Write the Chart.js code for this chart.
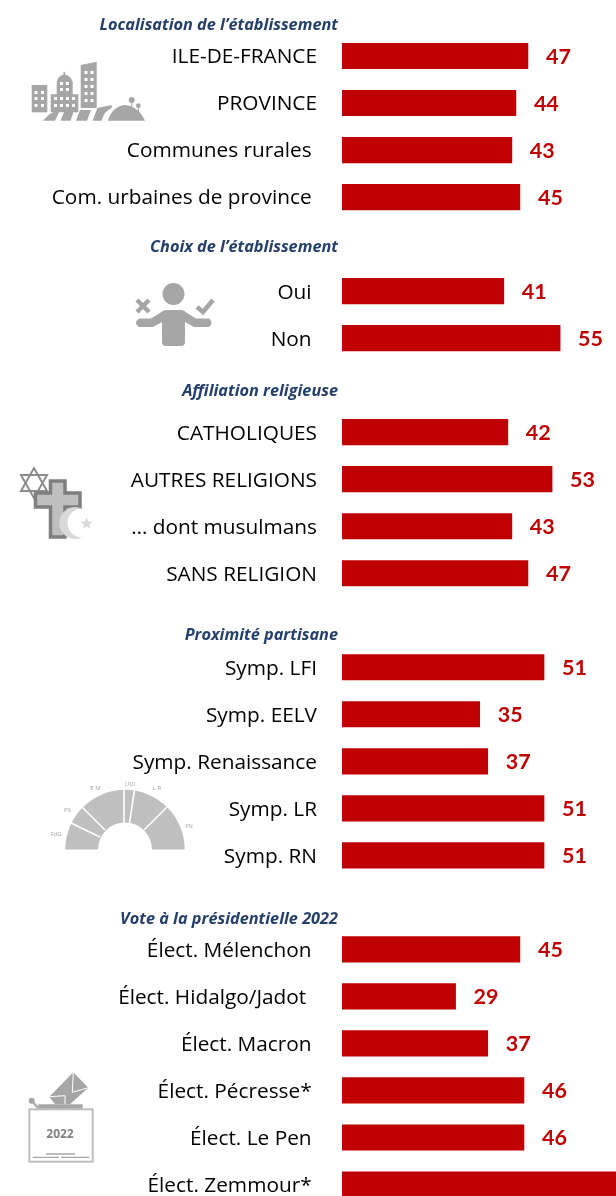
<!DOCTYPE html>
<html lang="fr">
<head>
<meta charset="utf-8">
<title>Localisation, choix, religion, vote</title>
<script src="https://cdn.jsdelivr.net/npm/chart.js@4/dist/chart.umd.min.js"></script>
<style>
    html, body { margin: 0; padding: 0; background: #fff; }
    #wrap { position: relative; width: 616px; height: 1196px; overflow: hidden; }
    #chart { position: absolute; left: 0; top: 0; }
    #icons { position: absolute; left: 0; top: 0; }
    #icons text { font-family: "Open Sans", sans-serif; text-anchor: middle; }
</style>
</head>
<body>
<div id="wrap">
    <canvas id="chart" width="616" height="1208"></canvas>
    <svg id="icons" width="616" height="1196" viewBox="0 0 616 1196">
        <!-- city -->
        <g fill="#a6a6a6">
            <rect x="31.700" y="85" width="15.600" height="27.300"/>
            <path d="M50.700 112.300V94.300H56.700V82Q58 76 63.500 74.500V71.700H65V74.500Q71 76 72.700 82V94.300H78.300V112.300Z"/>
            <path d="M80.700 65L96.700 61.700V108H80.700Z"/>
            <path d="M43 120.700L49 114.500Q54 111 60 110L55 120.700H60.500L65.500 108.700Q70 107.800 75 107.500L70.500 120.700H76L80 110H91L87 120.700H92.500L97.500 108L111.700 105V108Q104 111 101.700 120.700Z"/>
            <path d="M107.700 120.700Q113 106 125 105Q138 106 145 120.700Z"/>
            <circle cx="131.700" cy="100" r="3"/>
            <circle cx="138.300" cy="105.700" r="2.400"/>
        </g>
        <path d="M131.700 100V108M138.300 106V113" stroke="#a6a6a6" stroke-width="1" fill="none"/>
        <g fill="#fff">
            <rect x="34.500" y="91" width="3" height="3"/><rect x="41" y="91" width="3" height="3"/>
            <rect x="34.500" y="97" width="3" height="3"/><rect x="41" y="97" width="3" height="3"/>
            <rect x="34.500" y="104" width="3" height="3"/><rect x="41" y="104" width="3" height="3"/>
            <rect x="60" y="82" width="3" height="3"/><rect x="66" y="82" width="3" height="3"/>
            <rect x="60" y="88" width="3" height="3"/><rect x="66" y="88" width="3" height="3"/>
            <rect x="54" y="97" width="3" height="3"/><rect x="60" y="97" width="3" height="3"/><rect x="66" y="97" width="3" height="3"/><rect x="72" y="97" width="3" height="3"/>
            <rect x="54" y="104" width="3" height="3"/><rect x="60" y="104" width="3" height="3"/><rect x="66" y="104" width="3" height="3"/><rect x="72" y="104" width="3" height="3"/>
            <rect x="84.500" y="71" width="3" height="3"/><rect x="90.500" y="71" width="3" height="3"/>
            <rect x="84.500" y="78" width="3" height="3"/><rect x="90.500" y="78" width="3" height="3"/>
            <rect x="84.500" y="85" width="3" height="3"/><rect x="90.500" y="85" width="3" height="3"/>
            <rect x="84.500" y="92" width="3" height="3"/><rect x="90.500" y="92" width="3" height="3"/>
            <rect x="84.500" y="99" width="3" height="3"/><rect x="90.500" y="99" width="3" height="3"/>
        </g>
        <!-- person choosing -->
        <g fill="#a6a6a6" stroke="none">
            <circle cx="173.500" cy="294" r="11"/>
            <path d="M166 310H181Q184 310 187 313L196 318.500H209Q214 323 209 327H194L185 322V342Q185 346 181 346H166Q162 346 162 342V322L153 327H139Q133 323 139 318.500H151L160 313Q163 310 166 310Z"/>
        </g>
        <path d="M137 300L149 312M149 300L137 312" stroke="#a6a6a6" stroke-width="4.500" fill="none"/>
        <path d="M197 307L203 312L213 300" stroke="#a6a6a6" stroke-width="4.500" fill="none"/>
        <!-- religions -->
        <g fill="none" stroke="#8c8c8c" stroke-width="2">
            <path d="M34 468L47 491H21Z"/>
            <path d="M34 498L47 475H21Z"/>
        </g>
        <path d="M50.500 481H65V493H80V507H65V537H50.500V507H35.500V493H50.500Z" fill="#bfbfbf" stroke="#7f7f7f" stroke-width="3.500"/>
        <path d="M82 508.500A16 16 0 1 0 82 537.500A14.500 14.500 0 0 1 82 508.500Z" fill="#d9d9d9"/>
        <path d="M86.500 517L88.200 521.500H92.500L89 524.500L90.400 529L86.500 526.300L82.600 529L84 524.500L80.500 521.500H84.800Z" fill="#d9d9d9"/>
        <!-- assemblee -->
        <path d="M65.300 849.500A59.700 59.700 0 0 1 184.700 849.500H152A27 27 0 0 0 98 849.500Z" fill="#bfbfbf"/>
        <g stroke="#fff" stroke-width="1.600">
            <path d="M100 837L71 823"/><path d="M105 830L82 807"/>
            <path d="M124 823L124 789"/><path d="M129.500 823L134.500 790"/>
            <path d="M144 830L167 807"/>
        </g>
        <g font-size="6" fill="#a6a6a6">
            <text x="56" y="836">FdG</text><text x="67.500" y="812">PS</text>
            <text x="95.500" y="789.500">E M</text><text x="130" y="786">UDI</text>
            <text x="157" y="790">L R</text><text x="189" y="828">FN</text>
        </g>
        <!-- urne -->
        <path d="M73.300 1072.300L88.300 1087.700L70 1104.300H55L49.300 1096.700Z" fill="#a6a6a6"/>
        <path d="M49.300 1096.700L65 1095.700M73.300 1072.300L72.300 1092.300L88.300 1087.700M65 1095.700V1104.300" stroke="#fff" stroke-width="1" fill="none"/>
        <rect x="38.300" y="1104.300" width="44.400" height="4.700" fill="#a6a6a6"/>
        <rect x="29.300" y="1109.300" width="63.400" height="52.400" fill="#fff" stroke="#bfbfbf" stroke-width="2"/>
        <circle cx="31.700" cy="1100.700" r="3" fill="#a6a6a6"/>
        <path d="M32 1101L38 1108" stroke="#a6a6a6" stroke-width="2"/>
        <text x="60" y="1138" font-size="12" font-weight="700" fill="#808080">2022</text>
        <path d="M46 1154H75M32.700 1157.300H59M61 1157.300H89.300" stroke="#a6a6a6" stroke-width="1.300"/>
    </svg>
</div>
<script>
// Rows of the chart, empty strings are the gaps where the section titles sit.
// Trailing spaces are in the source labels and push the text left a little.
const categories = [
    'ILE-DE-FRANCE', 'PROVINCE', 'Communes rurales ', 'Com. urbaines de province ', '',
    'Oui ', 'Non ', '',
    'CATHOLIQUES', 'AUTRES RELIGIONS', '… dont musulmans', 'SANS RELIGION', '',
    'Symp. LFI', 'Symp. EELV', 'Symp. Renaissance', 'Symp. LR', 'Symp. RN', '',
    'Élect. Mélenchon ', 'Élect. Hidalgo/Jadot  ', 'Élect. Macron ', 'Élect. Pécresse* ', 'Élect. Le Pen ', 'Élect. Zemmour* '
];
// Zemmour runs off the picture, its value is only a guess
const values = [
    47, 44, 43, 45, null,
    41, 55, null,
    42, 53, 43, 47, null,
    51, 35, 37, 51, 51, null,
    45, 29, 37, 46, 46, 72
];
const sectionTitles = [
    'Localisation de l’établissement',
    'Choix de l’établissement',
    'Affiliation religieuse',
    'Proximité partisane',
    'Vote à la présidentielle 2022'
];
const sectionTitleY = [25, 247, 391, 635, 919];
// The bars in the source do not start quite at 0
const axisMin = 0.75;
const axisMax = 68.9;

// Section titles and the numbers after the bars
const annotations = {
    id: 'annotations',
    afterDatasetsDraw(chart) {
        const ctx = chart.ctx;
        ctx.save();
        ctx.textBaseline = 'middle';
        ctx.fillStyle = '#c00000';
        ctx.font = 'bold 21.5px Lato';
        ctx.textAlign = 'left';
        chart.getDatasetMeta(0).data.forEach((bar, i) => {
            if (values[i] !== null) {
                ctx.fillText(values[i], bar.x + 18, bar.y + 1);
            }
        });
        ctx.fillStyle = '#243f6b';
        ctx.font = 'italic bold 16.3px "Open Sans"';
        ctx.textAlign = 'right';
        sectionTitles.forEach((title, i) => {
            ctx.fillText(title, 338, sectionTitleY[i]);
        });
        ctx.restore();
    }
};

new Chart(document.getElementById('chart'), {
    type: 'bar',
    data: {
        labels: categories,
        datasets: [{
            data: values,
            backgroundColor: '#c00000',
            barThickness: 25.5
        }]
    },
    options: {
        indexAxis: 'y',
        responsive: false,
        animation: false,
        layout: { padding: { top: 32.5 } },
        plugins: {
            legend: { display: false },
            title: { display: false },
            tooltip: { enabled: false }
        },
        scales: {
            x: { display: false, min: axisMin, max: axisMax },
            y: {
                grid: { display: false, drawTicks: false },
                border: { display: false },
                afterFit(scale) {
                    scale.width = 342;
                    // the tick padding would otherwise squeeze the rows
                    scale.paddingTop = 0;
                    scale.paddingBottom = 0;
                },
                ticks: {
                    autoSkip: false,
                    padding: 25,
                    labelOffset: 1.5,
                    color: '#000',
                    font: { family: '"Open Sans"', size: 20.8 }
                }
            }
        }
    },
    plugins: [annotations]
});
</script>
</body>
</html>
